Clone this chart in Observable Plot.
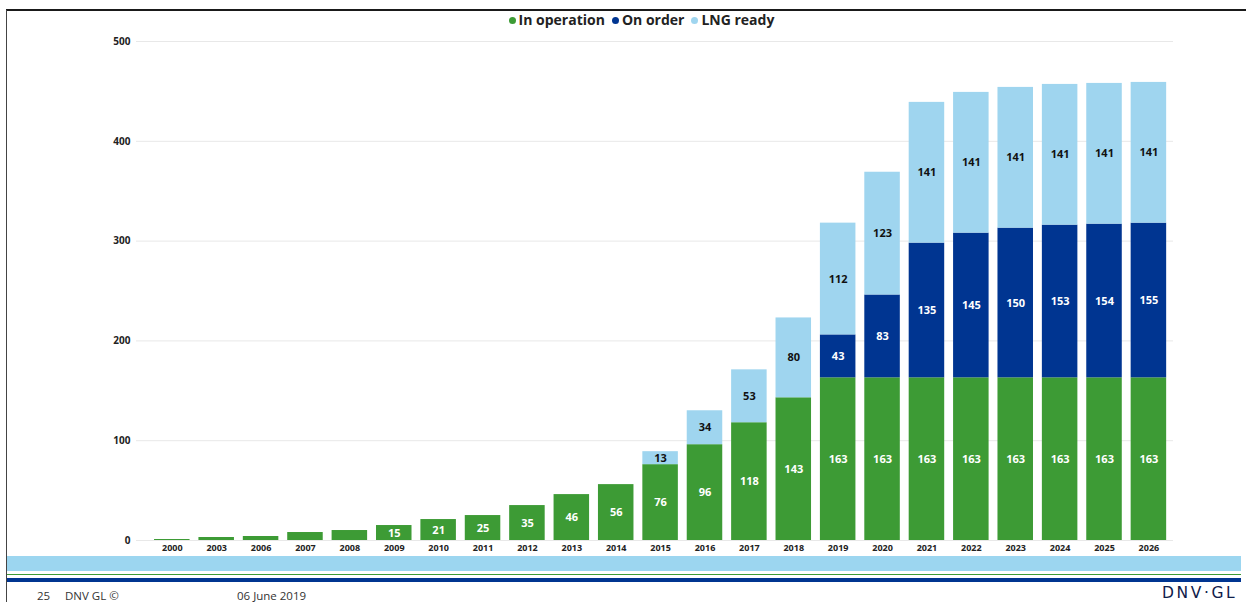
<!DOCTYPE html>
<html>
<head>
<meta charset="utf-8">
<script src="https://cdn.jsdelivr.net/npm/d3@7"></script>
<script src="https://cdn.jsdelivr.net/npm/@observablehq/plot@0.6"></script>
<style>
  html, body { margin: 0; padding: 0; background: #fff; }
  #page { position: relative; width: 1246px; height: 602px; overflow: hidden; font-family: "Open Sans", "Noto Sans", sans-serif; }
  #page svg { position: absolute; left: 0; top: 0; }
  .frame-top { position: absolute; left: 6px; top: 9px; width: 1240px; height: 2px; background: #1a1a1a; }
  .frame-left { position: absolute; left: 6px; top: 10px; width: 1px; height: 592px; background: #444; }
  #legend { position: absolute; top: 10px; left: 0; width: 1290px; text-align: center; font-size: 14px; font-weight: 700; color: #222; white-space: nowrap; }
  #legend span.dot { display: inline-block; width: 7px; height: 7px; border-radius: 50%; margin: 0 3px 2px 0; vertical-align: middle; }
  #legend span.item { margin-right: 7px; }
  .band { position: absolute; left: 7px; width: 1234px; }
  .foot { position: absolute; top: 588px; font-size: 11.5px; color: #333; }
  .logo { position: absolute; top: 584px; left: 1162px; font-size: 15.5px; letter-spacing: 2.6px; color: #0f204b; font-family: "DejaVu Sans", sans-serif; }
</style>
</head>
<body>
<div id="page">
  <div id="chart"></div>
  <div class="frame-top"></div>
  <div class="frame-left"></div>
  <div id="legend"></div>
  <div class="band" style="top:556px;height:15px;background:#9cd6f0"></div>
  <div class="band" style="top:574px;height:1px;background:#3d9b35"></div>
  <div class="band" style="top:578px;height:4px;background:#003591"></div>
  <div class="foot" style="left:37px">25</div>
  <div class="foot" style="left:65px">DNV GL ©</div>
  <div class="foot" style="left:237px">06 June 2019</div>
  <div class="logo">DNV·GL</div>
</div>
<script>
// Fleet counts per year, by status
const years = ["2000","2003","2006","2007","2008","2009","2010","2011","2012","2013","2014","2015","2016","2017","2018","2019","2020","2021","2022","2023","2024","2025","2026"];
const inOperation = [1,3,4,8,10,15,21,25,35,46,56,76,96,118,143,163,163,163,163,163,163,163,163];
const onOrder     = [0,0,0,0,0,0,0,0,0,0,0,0,0,0,0,43,83,135,145,150,153,154,155];
const lngReady    = [0,0,0,0,0,0,0,0,0,0,0,13,34,53,80,112,123,141,141,141,141,141,141];
const seriesNames = ["In operation", "On order", "LNG ready"];
const seriesColors = ["#3d9b35", "#003591", "#9fd5ef"];
const labelColors = ["#ffffff", "#ffffff", "#111111"];
const yTicks = [0, 100, 200, 300, 400, 500];

// Stack the three series bottom-up for every year
const seriesValues = [inOperation, onOrder, lngReady];
const rows = [];
years.forEach((year, i) => {
  let base = 0;
  seriesValues.forEach((vals, s) => {
    const v = vals[i];
    if (v > 0) rows.push({year, series: seriesNames[s], s, value: v, y1: base, y2: base + v});
    base += v;
  });
});
const labelled = rows.filter(d => d.value >= 12);

const chart = Plot.plot({
  width: 1246,
  height: 556,
  marginTop: 41,
  marginBottom: 16,
  marginLeft: 136,
  marginRight: 73,
  style: {fontFamily: "'Open Sans', sans-serif", background: "transparent"},
  x: {domain: years, range: [149.6, 1170.6], round: false, paddingInner: 0.2, paddingOuter: 0.1, label: null},
  y: {domain: [0, 500], label: null},
  color: {domain: seriesNames, range: seriesColors},
  marks: [
    Plot.gridY(yTicks, {stroke: "#e8e8e8", strokeOpacity: 1}),
    Plot.barY(rows, {x: "year", y1: "y1", y2: "y2", fill: "series"}),
    Plot.text(labelled, {
      x: "year",
      y: d => (d.y1 + d.y2) / 2,
      text: d => String(d.value),
      fill: d => labelColors[d.s],
      fontSize: 11,
      fontWeight: 700
    }),
    Plot.axisY(yTicks, {tickSize: 0, tickPadding: 6, fontSize: 10, fontWeight: 700, fill: "#222"}),
    Plot.axisX({tickSize: 0, tickPadding: 4, fontSize: 9, fontWeight: 700, fill: "#222"})
  ]
});
document.getElementById("chart").appendChild(chart);

// Legend: dot + name per series
const legend = document.getElementById("legend");
seriesNames.forEach((name, i) => {
  const item = document.createElement("span");
  item.className = "item";
  const dot = document.createElement("span");
  dot.className = "dot";
  dot.style.background = seriesColors[i];
  item.appendChild(dot);
  item.appendChild(document.createTextNode(name));
  legend.appendChild(item);
});
</script>
</body>
</html>
